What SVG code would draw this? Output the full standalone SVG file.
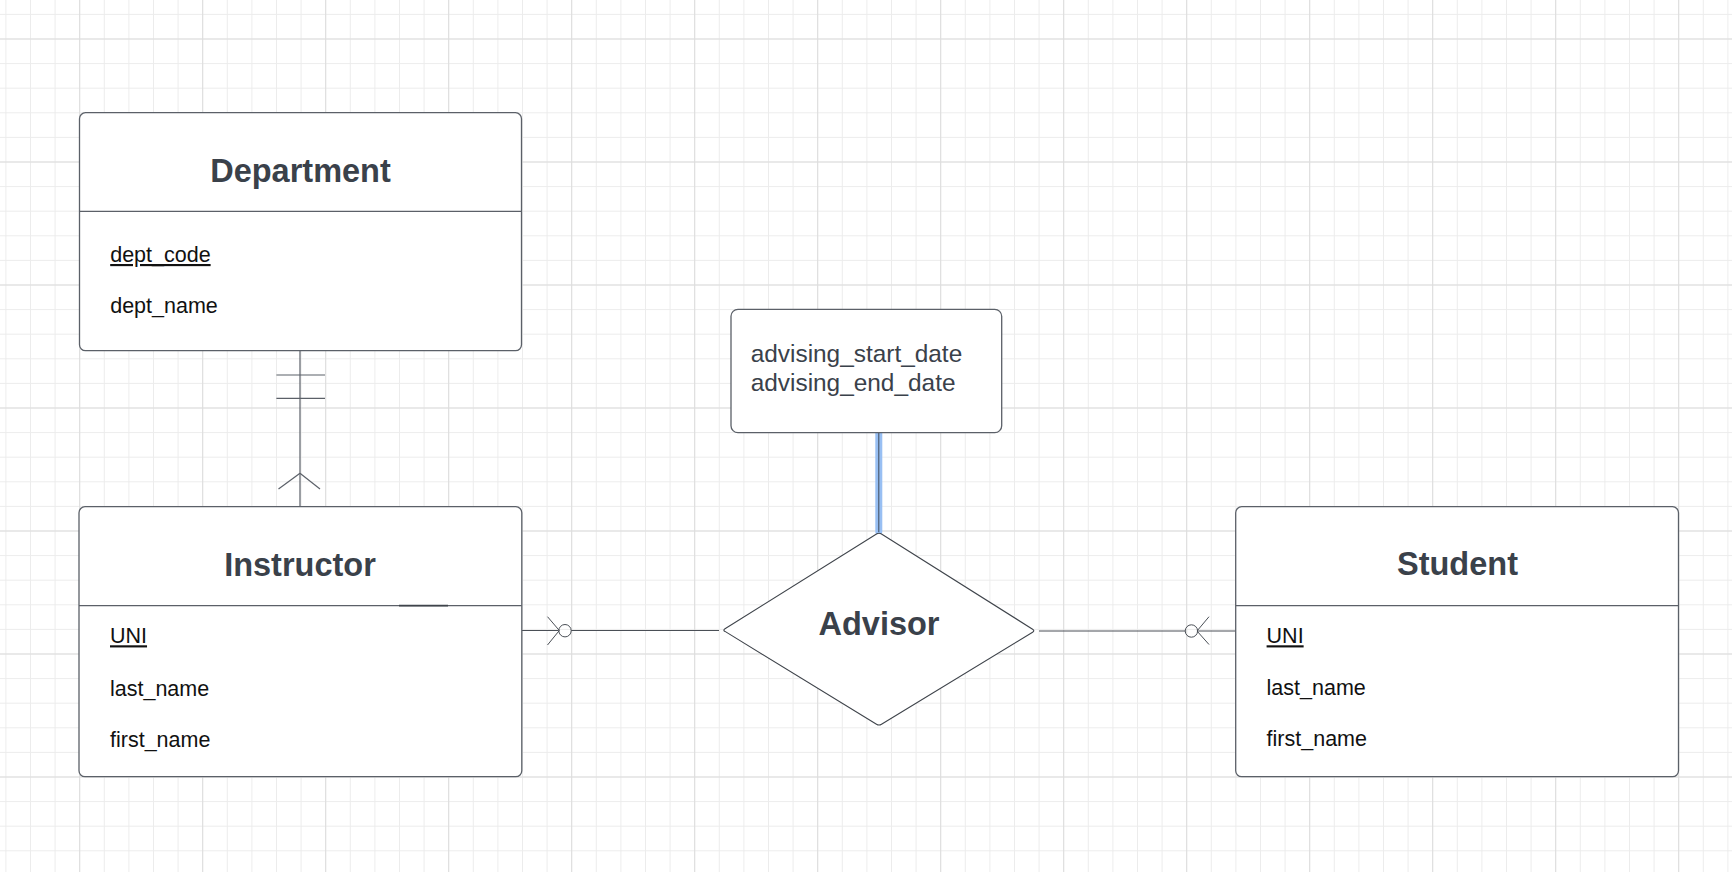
<svg xmlns="http://www.w3.org/2000/svg" width="1732" height="872" viewBox="0 0 1732 872">
  <defs>
    <pattern id="minorGrid" patternUnits="userSpaceOnUse" x="5.4" y="13.9" width="24.6" height="24.6">
      <path d="M0 0.5 H24.6 M0.5 0 V24.6" fill="none" stroke="#ececec" stroke-width="1"/>
    </pattern>
    <pattern id="majorGrid" patternUnits="userSpaceOnUse" x="79.2" y="38.5" width="123" height="123">
      <path d="M0 0.5 H123 M0.5 0 V123" fill="none" stroke="#dcdcdc" stroke-width="1"/>
    </pattern>
  </defs>
  <style>
    .box { fill: #ffffff; stroke: #5b6068; stroke-width: 1.3; }
    .div { stroke: #5b6068; stroke-width: 1.3; fill: none; }
    .title { font-family: "Liberation Sans", Arial, sans-serif; font-weight: bold; font-size: 32.5px; fill: #3a414a; text-anchor: middle; }
    .attr { font-family: "Liberation Sans", Arial, sans-serif; font-size: 21.5px; fill: #111111; }
    .pk { text-decoration: underline; }
    .note { font-family: "Liberation Sans", Arial, sans-serif; font-size: 24.4px; fill: #3a414a; }
    .conn { stroke: #5b6068; stroke-width: 1.2; fill: none; }
    .thin { stroke: #4a4f56; stroke-width: 1; fill: none; }
  </style>

  <rect width="1732" height="872" fill="#ffffff"/>
  <rect width="1732" height="872" fill="url(#minorGrid)"/>
  <rect width="1732" height="872" fill="url(#majorGrid)"/>

  <g id="connectors">
    <!-- Department to Instructor -->
    <line class="conn" x1="300" y1="351" x2="300" y2="506.7"/>
    <line class="conn" x1="276.4" y1="375" x2="325" y2="375"/>
    <line class="conn" x1="276.4" y1="398.3" x2="325" y2="398.3"/>
    <line class="conn" x1="300" y1="473.3" x2="278.5" y2="489"/>
    <line class="conn" x1="300" y1="473.3" x2="320" y2="489"/>
    <!-- Instructor to Advisor -->
    <line class="thin" x1="521.8" y1="630.5" x2="558.5" y2="630.5"/>
    <line class="thin" x1="547.5" y1="616.7" x2="559.3" y2="630.5"/>
    <line class="thin" x1="547.5" y1="645" x2="559.3" y2="630.5"/>
    <circle class="thin" cx="565" cy="630.7" r="6.2" fill="#ffffff"/>
    <line class="thin" x1="571.2" y1="630.5" x2="719" y2="630.5"/>
    <!-- Advisor to Student -->
    <line class="thin" x1="1039" y1="631" x2="1185.2" y2="631"/>
    <circle class="thin" cx="1191.4" cy="631" r="6.2" fill="#ffffff"/>
    <line class="thin" x1="1197.4" y1="631" x2="1235.7" y2="631"/>
    <line class="thin" x1="1209" y1="616.7" x2="1197" y2="631"/>
    <line class="thin" x1="1209" y1="644.5" x2="1197" y2="631"/>
    <!-- Attribute box to Advisor (highlighted) -->
    <line x1="878.8" y1="431" x2="878.8" y2="531.5" stroke="#98bff3" stroke-width="7" stroke-linecap="round"/>
    <line x1="878.8" y1="432" x2="878.8" y2="532" stroke="#3f4a5a" stroke-width="1"/>
  </g>

  <g id="department">
    <rect class="box" x="79.5" y="112.7" width="442" height="238" rx="6"/>
    <line class="div" x1="79.5" y1="211.3" x2="521.5" y2="211.3"/>
    <text class="title" x="300.5" y="181.5">Department</text>
    <text class="attr pk" x="110.2" y="262">dept_code</text>
    <text class="attr" x="110.2" y="313.3">dept_name</text>
  </g>

  <g id="instructor">
    <rect class="box" x="79" y="506.7" width="442.8" height="270" rx="6"/>
    <line class="div" x1="79" y1="605.7" x2="521.8" y2="605.7"/>
    <line x1="399" y1="605.7" x2="448" y2="605.7" stroke="#3f444b" stroke-width="1.8"/>
    <text class="title" x="300" y="575.5">Instructor</text>
    <text class="attr pk" x="110" y="643.3">UNI</text>
    <text class="attr" x="110" y="695.5">last_name</text>
    <text class="attr" x="110" y="746.5">first_name</text>
  </g>

  <g id="attributes">
    <rect class="box" x="731" y="309.3" width="270.7" height="123.4" rx="7"/>
    <text class="note" x="750.7" y="361.7">advising_start_date</text>
    <text class="note" x="750.7" y="390.7">advising_end_date</text>
  </g>

  <g id="advisor">
    <path d="M725 631.4 Q722.7 630.2 725 628.8 L876.5 534 Q879 532.6 881.5 534 L1032.6 629.2 Q1035 630.7 1032.6 632.2 L881.5 724.3 Q879 725.8 876.5 724.3 Z" fill="#ffffff" stroke="#3f444b" stroke-width="1.1"/>
    <text class="title" x="879" y="635">Advisor</text>
  </g>

  <g id="student">
    <rect class="box" x="1235.7" y="506.7" width="442.8" height="270" rx="6"/>
    <line class="div" x1="1235.7" y1="605.7" x2="1678.5" y2="605.7"/>
    <text class="title" x="1457.5" y="575">Student</text>
    <text class="attr pk" x="1266.6" y="643.3">UNI</text>
    <text class="attr" x="1266.6" y="695">last_name</text>
    <text class="attr" x="1266.6" y="745.7">first_name</text>
  </g>
</svg>
